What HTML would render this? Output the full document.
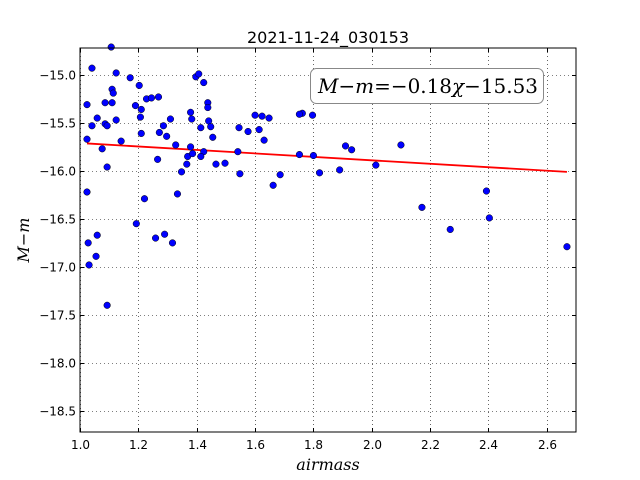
<!DOCTYPE html>
<html><head><meta charset="utf-8"><style>
html,body{margin:0;padding:0;background:#fff;}
svg{display:block;font-family:"DejaVu Sans","Liberation Sans",sans-serif;}
</style></head><body>
<svg id="chart" width="640" height="480">
<rect width="640" height="480" fill="#fff"/>
<text x="328" y="43" font-size="16" text-anchor="middle">2021-11-24_030153</text>
<g id="grid"></g>
<g id="axes"></g>
<g id="fit"></g>
<g id="pts"></g>
<rect x="80" y="48" width="496" height="384" fill="none" stroke="#000" stroke-width="1"/>
<g>
<rect x="310.5" y="68.5" width="233" height="35" rx="6" fill="#fff" stroke="#888" stroke-width="1"/>
<text x="318" y="93" font-size="20" textLength="220" lengthAdjust="spacingAndGlyphs" font-family="'DejaVu Serif','Liberation Serif',serif"><tspan font-style="italic">M</tspan>−<tspan font-style="italic">m</tspan>=−0.18<tspan font-style="italic">χ</tspan>−15.53</text>
</g>
<text x="328" y="470" font-size="16" font-style="italic" text-anchor="middle" font-family="'DejaVu Serif','Liberation Serif',serif">airmass</text>
<text transform="translate(29,240) rotate(-90)" font-size="16" font-style="italic" text-anchor="middle" font-family="'DejaVu Serif','Liberation Serif',serif">M−m</text>
</svg>
<script>
const xTicks=[1.0,1.2,1.4,1.6,1.8,2.0,2.2,2.4,2.6];
const yTicks=[-15.0,-15.5,-16.0,-16.5,-17.0,-17.5,-18.0,-18.5];
const airmass=[1.024,1.041,1.059,1.041,1.024,1.076,1.086,1.110,1.114,1.110,1.086,1.093,1.124,1.141,1.190,1.093,1.024,1.221,1.193,1.259,1.290,1.317,1.059,1.028,1.055,1.031,1.093,1.107,1.124,1.172,1.203,1.210,1.207,1.210,1.228,1.245,1.269,1.266,1.272,1.286,1.297,1.310,1.328,1.334,1.348,1.366,1.369,1.386,1.379,1.379,1.383,1.397,1.407,1.424,1.438,1.438,1.441,1.448,1.414,1.455,1.424,1.414,1.466,1.497,1.548,1.541,1.545,1.576,1.600,1.624,1.648,1.631,1.762,1.752,1.797,1.752,1.800,1.821,1.890,1.662,1.686,1.910,1.931,2.014,2.100,2.172,2.269,2.393,2.403,2.669,1.614];
const mag=[-15.31,-14.93,-15.45,-15.53,-15.67,-15.77,-15.29,-15.15,-15.19,-15.29,-15.51,-15.53,-15.47,-15.69,-15.32,-15.96,-16.22,-16.29,-16.55,-16.70,-16.66,-16.75,-16.67,-16.75,-16.89,-16.98,-17.40,-14.71,-14.98,-15.03,-15.11,-15.36,-15.44,-15.61,-15.25,-15.24,-15.23,-15.88,-15.60,-15.53,-15.64,-15.46,-15.73,-16.24,-16.01,-15.93,-15.85,-15.82,-15.75,-15.39,-15.46,-15.02,-14.99,-15.08,-15.29,-15.34,-15.48,-15.54,-15.55,-15.65,-15.80,-15.85,-15.93,-15.92,-16.03,-15.80,-15.55,-15.59,-15.42,-15.43,-15.45,-15.68,-15.40,-15.41,-15.42,-15.83,-15.84,-16.02,-15.99,-16.15,-16.04,-15.74,-15.78,-15.94,-15.73,-16.38,-16.61,-16.21,-16.49,-16.79,-15.57];
const fitSlope=-0.18;
const fitIntercept=-15.53;
const NS="http://www.w3.org/2000/svg";
const X0=1.0,X1=2.7,Y0=-14.72,Y1=-18.72,L=80,R=576,T=48,B=432;
function sx(v){return L+(v-X0)/(X1-X0)*(R-L);}
function sy(v){return T+(v-Y0)/(Y1-Y0)*(B-T);}
function mk(tag,attrs,parent){const e=document.createElementNS(NS,tag);for(const k in attrs)e.setAttribute(k,attrs[k]);parent.appendChild(e);return e;}
const grid=document.getElementById('grid'),axes=document.getElementById('axes');
xTicks.forEach(t=>{const x=Math.round(sx(t))+0.5;
 const g=mk('line',{x1:x,x2:x,y1:T,y2:B,stroke:'#000','stroke-width':0.6,'stroke-dasharray':'1,3'},grid);
 
 
 mk('line',{x1:x,x2:x,y1:B,y2:B-4,stroke:'#000'},axes);
 mk('line',{x1:x,x2:x,y1:T,y2:T+4,stroke:'#000'},axes);
 const tx=mk('text',{x:x,y:B+17,'font-size':12,'text-anchor':'middle'},axes);
 tx.textContent=t.toFixed(1);
 
 
});
yTicks.forEach(t=>{const y=Math.round(sy(t))+0.5;
 const g=mk('line',{x1:L,x2:R,y1:y,y2:y,stroke:'#000','stroke-width':0.6,'stroke-dasharray':'1,3'},grid);
 
 
 mk('line',{x1:L,x2:L+4,y1:y,y2:y,stroke:'#000'},axes);
 mk('line',{x1:R,x2:R-4,y1:y,y2:y,stroke:'#000'},axes);
 const tx=mk('text',{x:L-4,y:y+4,'font-size':12,'text-anchor':'end'},axes);
 tx.textContent='\u2212'+Math.abs(t).toFixed(1);
 
 
});
const fit=document.getElementById('fit');
const xs=Math.min(...airmass),xe=Math.max(...airmass);
const fl=mk('line',{x1:sx(xs),y1:sy(fitSlope*xs+fitIntercept),x2:sx(xe),y2:sy(fitSlope*xe+fitIntercept),stroke:'#f00','stroke-width':1.8},fit);


const pts=document.getElementById('pts');
airmass.forEach((a,i)=>{
 const c=mk('circle',{cx:sx(a),cy:sy(mag[i]),r:3.3,fill:'#0000ff',stroke:'#000','stroke-width':0.5},pts);
 
 
});
</script>
</body></html>
